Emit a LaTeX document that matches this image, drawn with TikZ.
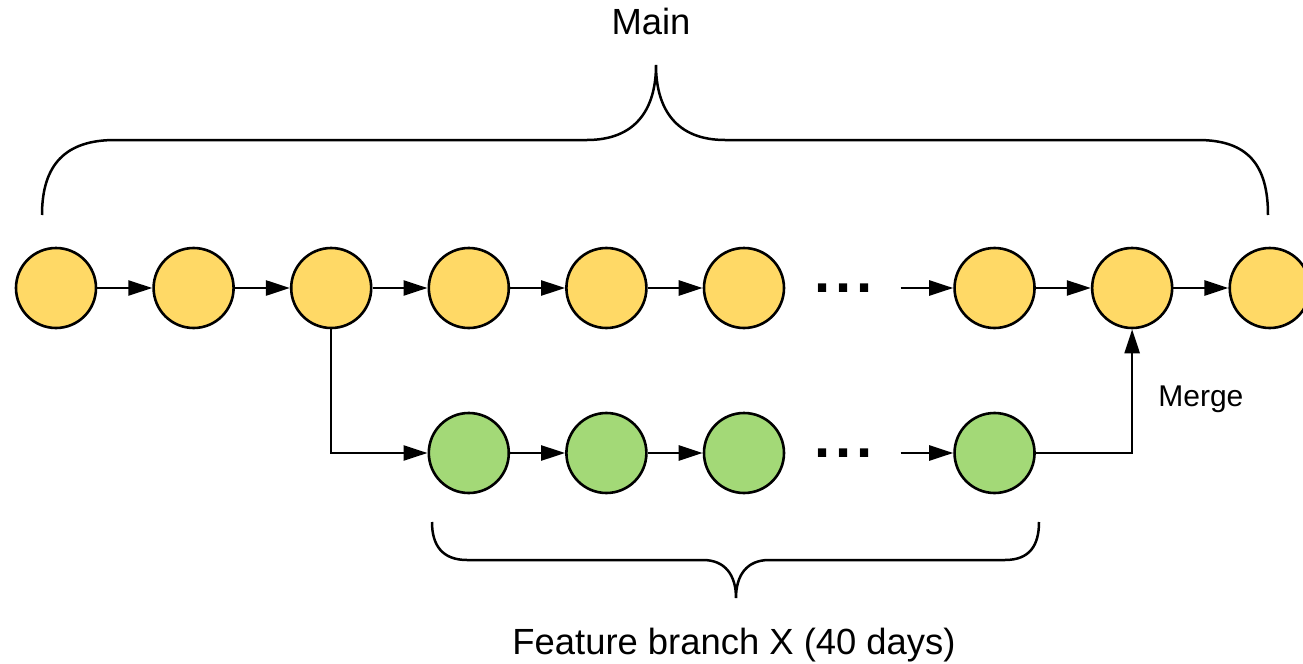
\documentclass[tikz,border=0pt]{standalone}
\usepackage{fontspec}
\setmainfont{Liberation Sans}
\usepackage{xcolor}
\usepackage{tikz}
\usetikzlibrary{arrows.meta,positioning}
\definecolor{mainfill}{HTML}{FFD966}
\definecolor{featfill}{HTML}{A3D977}

\begin{document}
\begin{tikzpicture}[
x=0.5pt,y=-0.5pt,
node distance=27.5pt,
commit/.style={draw=black,circle,line width=1.3pt,minimum size=40pt,inner sep=0pt},
maincommit/.style={commit,fill=mainfill},
featcommit/.style={commit,fill=featfill},
gapdots/.style={inner sep=0pt,font=\fontsize{29}{29}\selectfont\bfseries},
lbl/.style={font=\fontsize{18.2}{22}\selectfont},
arr/.style={-{Triangle[length=12pt,width=7.5pt]},line width=1.25pt},
brace/.style={line width=1.25pt}
]
\useasboundingbox (0,0) rectangle (1303,664);
\node[maincommit] (c1) at (56,288) {};
\node[maincommit,right=of c1] (c2) {};
\node[maincommit,right=of c2] (c3) {};
\node[maincommit,right=of c3] (c4) {};
\node[maincommit,right=of c4] (c5) {};
\node[maincommit,right=of c5] (c6) {};
\node[gapdots,right=14.3pt of c6] (dots1) {.\kern2.4pt.\kern2.4pt.};
\coordinate[right=14pt of dots1] (in7);
\node[maincommit,right=40.3pt of dots1] (c7) {};
\node[maincommit,right=of c7] (c8) {};
\node[maincommit,right=of c8] (c9) {};
\node[featcommit,below=41.2pt of c4] (g1) {};
\node[featcommit,right=of g1] (g2) {};
\node[featcommit,right=of g2] (g3) {};
\node[gapdots,right=14.3pt of g3] (dots2) {.\kern2.4pt.\kern2.4pt.};
\coordinate[right=14pt of dots2] (in4);
\node[featcommit,right=40.3pt of dots2] (g4) {};
\draw[arr] (c1)--(c2);\draw[arr] (c2)--(c3);\draw[arr] (c3)--(c4);
\draw[arr] (c4)--(c5);\draw[arr] (c5)--(c6);\draw[arr] (in7)--(c7);
\draw[arr] (c7)--(c8);\draw[arr] (c8)--(c9);
\draw[arr] (g1)--(g2);\draw[arr] (g2)--(g3);\draw[arr] (in4)--(g4);
\draw[arr] (c3) |- (g1);
\draw[arr] (g4) -| (c8);
\node[font=\fontsize{15}{18}\selectfont,anchor=base west,inner sep=0pt] (merge) at (1158,406) {Merge};
\node[lbl,anchor=base] (main) at (651,34) {Main};
\node[lbl,anchor=base] (feat) at (734,654) {Feature branch X (40 days)};
\draw[brace] (42,215) .. controls (42,165) and (65,140) .. (115,140) -- (587,140) .. controls (635,140) and (656,110) .. (656,65) .. controls (656,110) and (677,140) .. (725,140) -- (1198,140) .. controls (1248,140) and (1268,165) .. (1268,215);
\draw[brace] (432,522) .. controls (432,545) and (442,560) .. (467,560) -- (703,560) .. controls (725,560) and (736,575) .. (736,598) .. controls (736,575) and (747,560) .. (769,560) -- (1005,560) .. controls (1030,560) and (1039,545) .. (1039,522);
\end{tikzpicture}
\end{document}
